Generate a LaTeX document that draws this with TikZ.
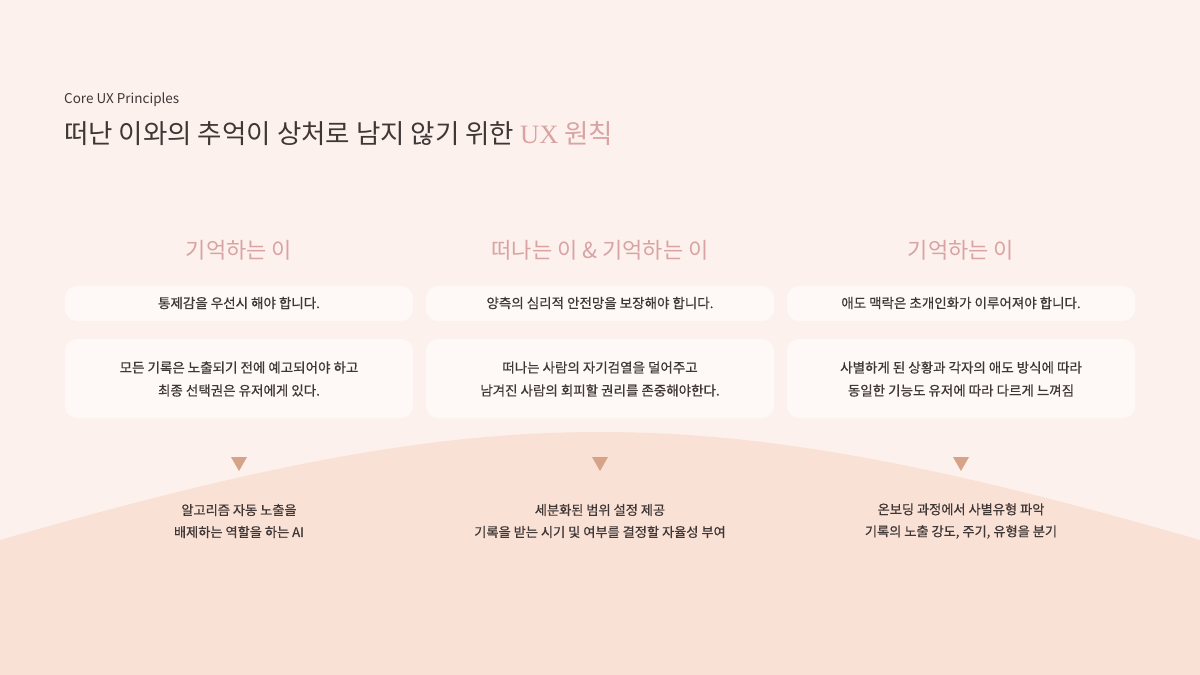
\documentclass[tikz,border=0pt]{standalone}
\usepackage{fontspec}
\setmainfont{Noto Sans CJK KR}
\newfontfamily\bodyfont[FakeBold=0.6]{Noto Sans CJK KR}
\newfontfamily\latinserif{Liberation Serif}
\definecolor{bgc}{HTML}{FCF1EC}
\definecolor{arcc}{HTML}{F9E1D5}
\definecolor{boxc}{HTML}{FEF9F6}
\definecolor{pinkc}{HTML}{D9A3A3}
\definecolor{txtc}{HTML}{3F3636}
\definecolor{tric}{HTML}{D6A288}
\tikzset{
  card/.style={fill=boxc, rounded corners=12pt, draw=none},
  heading/.style={text=pinkc, font=\fontsize{22}{25}\selectfont, anchor=center},
  celltext/.style={text=txtc, font=\bodyfont\fontsize{13.5}{23}\selectfont, align=center, anchor=center},
  bottomtext/.style={text=txtc, font=\bodyfont\fontsize{13.2}{22}\selectfont, align=center, anchor=center},
  tri/.style={fill=tric, draw=none}
}
\begin{document}
\begin{tikzpicture}[x=1pt,y=-1pt]
\useasboundingbox (0,0) rectangle (1200,675);
\fill[bgc] (0,0) rectangle (1200,675);
\fill[arcc] (0,540) .. controls (500,396) and (700,396) .. (1200,540) -- (1200,675) -- (0,675) -- cycle;
% title
\node[anchor=base west, inner sep=0, text=txtc, font=\fontsize{13.5}{16}\selectfont] (sub) at (64,103) {Core UX Principles};
\node[anchor=base west, inner sep=0, text=txtc, font=\fontsize{26.5}{30}\selectfont] (title) at (64,143) {떠난 이와의 추억이 상처로 남지 않기 위한 \textcolor{pinkc}{{\latinserif UX} 원칙}};
% columns
\foreach \cx/\name in {239/a,600/b,961/c}{
  \path[card] (\cx-174,286) rectangle (\cx+174,321);
  \path[card] (\cx-174,339) rectangle (\cx+174,418);
  \fill[tri] (\cx-8,457) -- (\cx+8,457) -- (\cx,471) -- cycle;
}
\node[heading] (h1) at (239,250) {기억하는 이};
\node[heading] (h2) at (600,250) {떠나는 이 \& 기억하는 이};
\node[heading] (h3) at (961,250) {기억하는 이};
\node[celltext] (r1a) at (239,303) {통제감을 우선시 해야 합니다.};
\node[celltext] (r1b) at (600,303) {양측의 심리적 안전망을 보장해야 합니다.};
\node[celltext] (r1c) at (961,303) {애도 맥락은 초개인화가 이루어져야 합니다.};
\node[celltext] (r2a) at (239,379) {모든 기록은 노출되기 전에 예고되어야 하고\\최종 선택권은 유저에게 있다.};
\node[celltext] (r2b) at (600,379) {떠나는 사람의 자기검열을 덜어주고\\남겨진 사람의 회피할 권리를 존중해야한다.};
\node[celltext] (r2c) at (961,379) {사별하게 된 상황과 각자의 애도 방식에 따라\\동일한 기능도 유저에 따라 다르게 느껴짐};
\node[bottomtext] (b1) at (239,521) {알고리즘 자동 노출을\\배제하는 역할을 하는 AI};
\node[bottomtext] (b2) at (600,521) {세분화된 범위 설정 제공\\기록을 받는 시기 및 여부를 결정할 자율성 부여};
\node[bottomtext] (b3) at (961,521) {온보딩 과정에서 사별유형 파악\\기록의 노출 강도, 주기, 유형을 분기};
\end{tikzpicture}
\end{document}
